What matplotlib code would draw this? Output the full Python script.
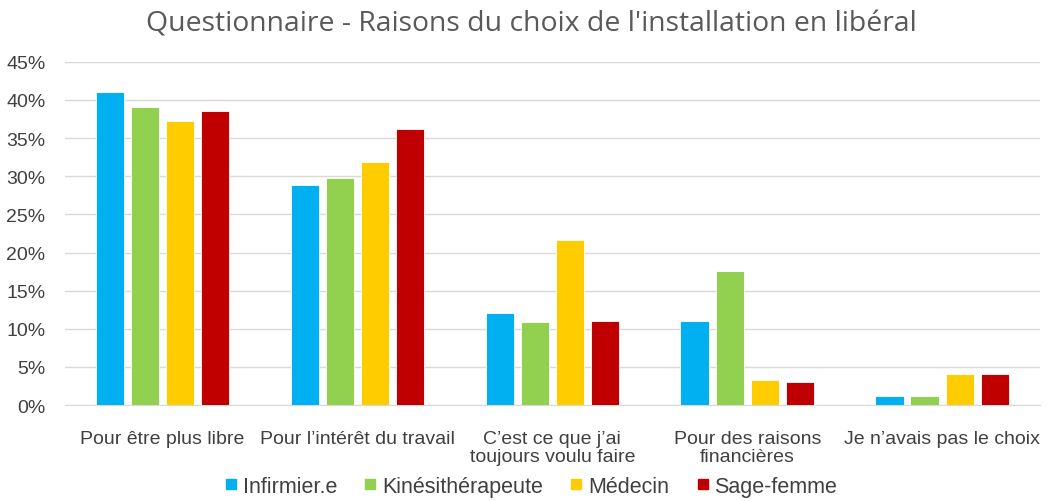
import matplotlib.pyplot as plt
from matplotlib.lines import Line2D
import numpy as np

categories = ["Pour être plus libre", "Pour l’intérêt du travail",
              "C’est ce que j’ai\ntoujours voulu faire",
              "Pour des raisons\nfinancières", "Je n’avais pas le choix"]
series = ["Infirmier.e", "Kinésithérapeute", "Médecin", "Sage-femme"]
infirmier = [41.1, 28.9, 12.1, 11.0, 1.2]
kine = [39.1, 29.8, 10.9, 17.6, 1.2]
medecin = [37.2, 31.9, 21.7, 3.3, 4.1]
sage_femme = [38.5, 36.2, 11.0, 3.0, 4.1]
values = [infirmier, kine, medecin, sage_femme]
colors = ["#00B0F0", "#92D050", "#FFCC00", "#C00000"]

plt.rcParams['font.family'] = ['Liberation Sans', 'DejaVu Sans']

fig = plt.figure(figsize=(10.48, 5.02), dpi=100)
ax = fig.add_axes([0.062, 0.191, 0.930, 0.684])

x = np.arange(len(categories))
step = 0.18
width = 0.145
for i, (name, vals) in enumerate(zip(series, values)):
    ax.bar(x + (i - 1.5) * step, vals, width, color=colors[i], label=name,
           edgecolor="white", linewidth=0.6, zorder=3)

ax.set_xlim(-0.5, len(categories) - 0.5)
ax.set_ylim(0, 45)
ax.set_yticks(np.arange(0, 46, 5))
ax.set_yticklabels([f"{v}%" for v in range(0, 46, 5)])
ax.set_xticks(x)
ax.set_xticklabels(categories, linespacing=1.1)
ax.tick_params(axis="both", length=0, labelsize=14, colors="#404040")
ax.tick_params(axis="x", pad=18)
ax.tick_params(axis="y", pad=14)
ax.grid(axis="y", color="#D9D9D9", linewidth=1, zorder=0)
for s in ["top", "right", "left"]:
    ax.spines[s].set_visible(False)
ax.spines["bottom"].set_color("#D9D9D9")

fig.suptitle("Questionnaire - Raisons du choix de l'installation en libéral",
             fontsize=20.4, color="#595959", x=0.507, y=0.98,
             family=['Open Sans', 'DejaVu Sans'])

handles = [Line2D([], [], marker="s", linestyle="none", markersize=7,
                  markerfacecolor=c, markeredgecolor=c) for c in colors]
fig.legend(handles, series, loc="lower center", ncol=4, frameon=False, fontsize=15.5,
           bbox_to_anchor=(0.507, -0.03), handlelength=0.5,
           handletextpad=0.3, columnspacing=1.3, labelcolor="#404040")

fig.savefig("out.png", dpi=100)
